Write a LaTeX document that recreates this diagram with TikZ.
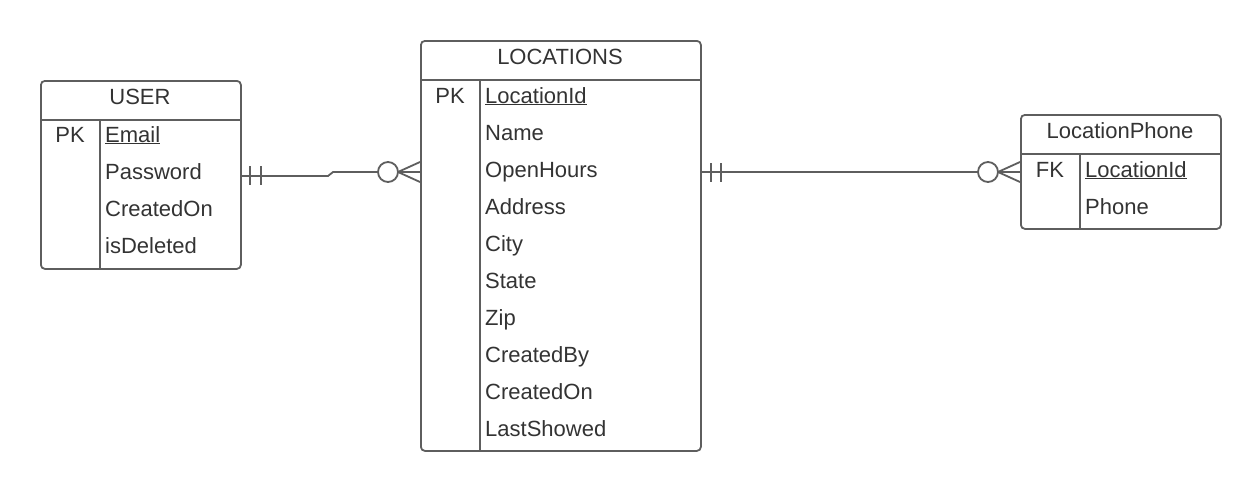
\documentclass[tikz,border=0pt]{standalone}
\usepackage{fontspec}
\setmainfont{Liberation Sans}
\definecolor{lc}{HTML}{5E5E5E}
\definecolor{tc}{HTML}{333333}
\begin{document}
\begin{tikzpicture}[x=1pt,y=-1pt,
  tbl/.style={draw=lc, line width=1.8pt, rounded corners=4pt, inner sep=0pt, anchor=north west},
  sep/.style={draw=lc, line width=1.8pt},
  conn/.style={draw=lc, line width=1.8pt},
  ttl/.style={font=\fontsize{22}{26}\selectfont, text=tc, inner sep=0pt, anchor=base},
  fld/.style={font=\fontsize{22}{26}\selectfont, text=tc, inner sep=0pt, anchor=base west},
  key/.style={font=\fontsize{22}{26}\selectfont, text=tc, inner sep=0pt, anchor=base}]
\useasboundingbox (0,0) rectangle (1260,490);
% USER
\node[tbl, minimum width=200pt, minimum height=188pt] (user) at (40,80) {};
\draw[sep] (40,120) -- (240,120);
\draw[sep] (100,120) -- (100,268);
\node[ttl] (userT) at (140,104) {USER};
\node[key] (userPK) at (70,142) {PK};
\node[fld] (u1) at (105,142) {\underline{Email}};
\node[fld] (u2) at (105,179) {Password};
\node[fld] (u3) at (105,216) {CreatedOn};
\node[fld] (u4) at (105,253) {isDeleted};
% LOCATIONS
\node[tbl, minimum width=280pt, minimum height=410pt] (loc) at (420,40) {};
\draw[sep] (420,80) -- (700,80);
\draw[sep] (480,80) -- (480,450);
\node[ttl] (locT) at (560,64) {LOCATIONS};
\node[key] (locPK) at (450,103) {PK};
\node[fld] (l1) at (485,103) {\underline{LocationId}};
\node[fld] (l2) at (485,140) {Name};
\node[fld] (l3) at (485,177) {OpenHours};
\node[fld] (l4) at (485,214) {Address};
\node[fld] (l5) at (485,251) {City};
\node[fld] (l6) at (485,288) {State};
\node[fld] (l7) at (485,325) {Zip};
\node[fld] (l8) at (485,362) {CreatedBy};
\node[fld] (l9) at (485,399) {CreatedOn};
\node[fld] (l10) at (485,436) {LastShowed};
% LocationPhone
\node[tbl, minimum width=200pt, minimum height=114pt] (ph) at (1020,114) {};
\draw[sep] (1020,154) -- (1220,154);
\draw[sep] (1080,154) -- (1080,228);
\node[ttl] (phT) at (1120,138) {LocationPhone};
\node[key] (phFK) at (1050,177) {FK};
\node[fld] (p1) at (1085,177) {\underline{LocationId}};
\node[fld] (p2) at (1085,214) {Phone};
% connector 1
\coordinate (a1) at (user.east |- 0,176);
\coordinate (b1) at (loc.west |- 0,172);
\draw[conn] (a1) -- (328,176) -- (333,172) -- (b1);
\draw[conn] (250,166) -- (250,185) (261,166) -- (261,185);
\draw[conn, fill=white] (388,172) circle (10);
\draw[conn] (398,172) -- (b1 |- 0,162) (398,172) -- (b1 |- 0,182);
% connector 2
\coordinate (a2) at (loc.east |- 0,172);
\coordinate (b2) at (ph.west |- 0,172);
\draw[conn] (a2) -- (b2);
\draw[conn] (711,163) -- (711,182) (721,163) -- (721,182);
\draw[conn, fill=white] (988,172) circle (10);
\draw[conn] (998,172) -- (b2 |- 0,162) (998,172) -- (b2 |- 0,182);
\end{tikzpicture}
\end{document}
